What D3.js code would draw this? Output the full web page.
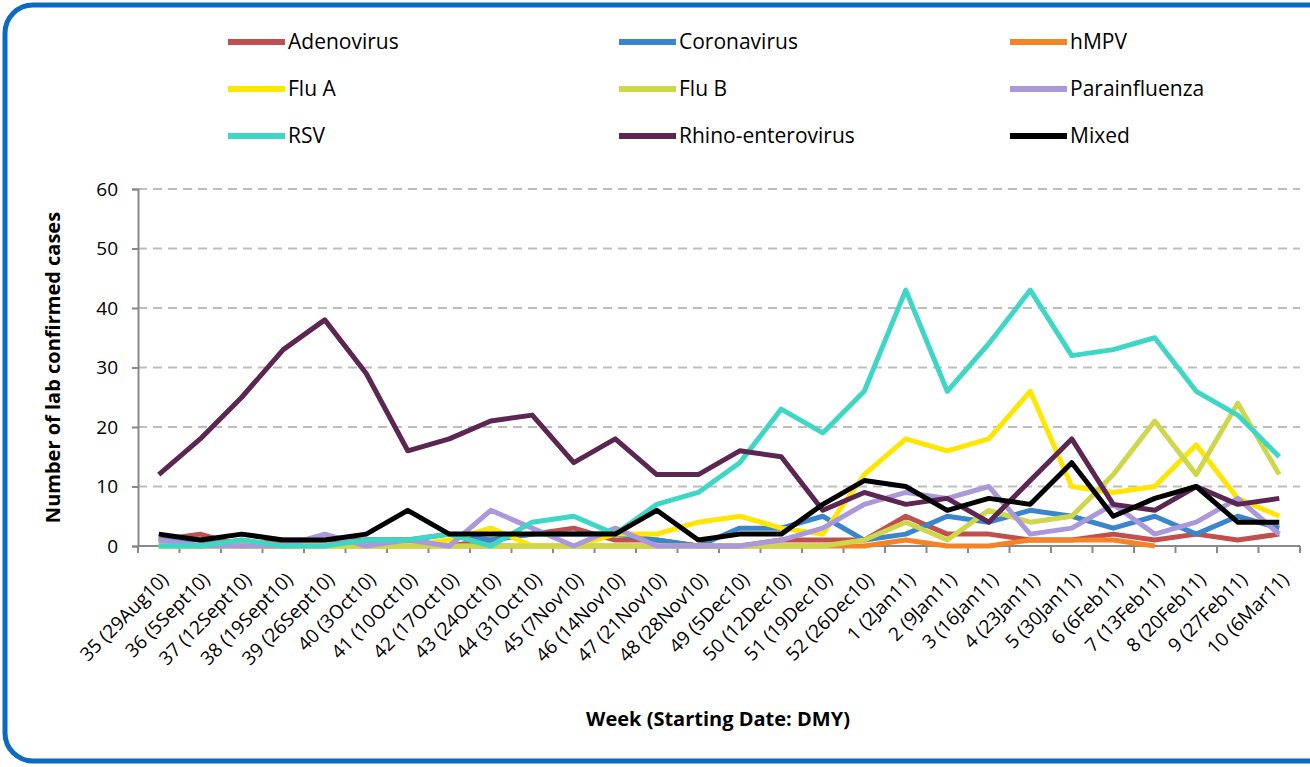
<!DOCTYPE html>
<html>
<head>
<meta charset="utf-8">
<script src="https://cdn.jsdelivr.net/npm/d3@7"></script>
<style>
  body { margin: 0; background: #fff; }
  svg { display: block; font-family: "Open Sans", sans-serif; }
</style>
</head>
<body>
<div id="chart"></div>
<script>
// week labels on the category axis
var weeks = ["35 (29Aug10)", "36 (5Sept10)", "37 (12Sept10)", "38 (19Sept10)", "39 (26Sept10)",
  "40 (3Oct10)", "41 (10Oct10)", "42 (17Oct10)", "43 (24Oct10)", "44 (31Oct10)", "45 (7Nov10)",
  "46 (14Nov10)", "47 (21Nov10)", "48 (28Nov10)", "49 (5Dec10)", "50 (12Dec10)", "51 (19Dec10)",
  "52 (26Dec10)", "1 (2Jan11)", "2 (9Jan11)", "3 (16Jan11)", "4 (23Jan11)", "5 (30Jan11)",
  "6 (6Feb11)", "7 (13Feb11)", "8 (20Feb11)", "9 (27Feb11)", "10 (6Mar11)"];

var yTicks = [0, 10, 20, 30, 40, 50, 60];

var adenovirus  = [1, 2, 0, 1, 1, 1, 1, 0, 1, 2, 3, 1, 1, 0, 0, 1, 1, 1, 5, 2, 2, 1, 1, 2, 1, 2, 1, 2];
var coronavirus = [1, 1, 0, 0, 0, 1, 1, 2, 1, 2, 2, 2, 1, 0, 3, 3, 5, 1, 2, 5, 4, 6, 5, 3, 5, 2, 5, 3];
var hmpv        = [0, 0, 1, 0, 0, 0, 0, 0, 0, 0, 0, 0, 0, 0, 0, 0, 0, 0, 1, 0, 0, 1, 1, 1, 0, null, null, null];
var fluA        = [0, 0, 0, 0, 0, 0, 0, 1, 3, 0, 0, 2, 2, 4, 5, 3, 2, 12, 18, 16, 18, 26, 10, 9, 10, 17, 8, 5];
var fluB        = [0, 0, 0, 0, 0, 0, 0, 0, 0, 0, 0, 0, 0, 0, 0, 0, 0, 1, 4, 1, 6, 4, 5, 12, 21, 12, 24, 12];
var parainfluenza = [1, 0, 0, 0, 2, 0, 1, 0, 6, 3, 0, 3, 0, 0, 0, 1, 3, 7, 9, 8, 10, 2, 3, 7, 2, 4, 8, 2];
var rsv         = [0, 0, 1, 0, 0, 1, 1, 2, 0, 4, 5, 2, 7, 9, 14, 23, 19, 26, 43, 26, 34, 43, 32, 33, 35, 26, 22, 15];
var rhino       = [12, 18, 25, 33, 38, 29, 16, 18, 21, 22, 14, 18, 12, 12, 16, 15, 6, 9, 7, 8, 4, 11, 18, 7, 6, 10, 7, 8];
var mixed       = [2, 1, 2, 1, 1, 2, 6, 2, 2, 2, 2, 2, 6, 1, 2, 2, 7, 11, 10, 6, 8, 7, 14, 5, 8, 10, 4, 4];

var seriesNames = ["Adenovirus", "Coronavirus", "hMPV", "Flu A", "Flu B", "Parainfluenza",
  "RSV", "Rhino-enterovirus", "Mixed"];
var seriesColors = ["#C0504D", "#3A86CC", "#F58426", "#FFE600", "#CED74A", "#AB98DA",
  "#3ED6C5", "#5B2651", "#000000"];
var seriesValues = [adenovirus, coronavirus, hmpv, fluA, fluB, parainfluenza, rsv, rhino, mixed];

var W = 1310, H = 767;
var plot = { left: 138, right: 1300, top: 189, bottom: 546 };

var svg = d3.select("#chart").append("svg")
  .attr("width", W)
  .attr("height", H);

// outer rounded frame
svg.append("rect")
  .attr("x", 5).attr("y", 5)
  .attr("width", 1340).attr("height", 756)
  .attr("rx", 28).attr("ry", 28)
  .attr("fill", "#fff")
  .attr("stroke", "#0B6BC2")
  .attr("stroke-width", 5);

var x = d3.scaleBand()
  .domain(weeks)
  .range([plot.left, plot.right]);

var y = d3.scaleLinear()
  .domain([0, 60])
  .range([plot.bottom, plot.top]);

function cx(d) { return x(d) + x.bandwidth() / 2; }

// gridlines
svg.append("g")
  .selectAll("line")
  .data(yTicks.filter(function (d) { return d > 0; }))
  .enter().append("line")
  .attr("x1", plot.left).attr("x2", plot.right)
  .attr("y1", function (d) { return y(d); })
  .attr("y2", function (d) { return y(d); })
  .attr("stroke", "#BDBDBD")
  .attr("stroke-width", 2)
  .attr("stroke-dasharray", "9,6");

// y axis
var yAxis = svg.append("g")
  .attr("transform", "translate(" + plot.left + ",0)")
  .call(d3.axisLeft(y).tickValues(yTicks).tickSize(6).tickPadding(14));
yAxis.select(".domain").attr("stroke", "#898989").attr("stroke-width", 2);
yAxis.selectAll(".tick line").attr("stroke", "#898989").attr("stroke-width", 2);
yAxis.selectAll(".tick text")
  .attr("font-size", 19)
  .attr("font-family", "Open Sans, sans-serif")
  .attr("fill", "#000");

// x axis: line + ticks at category boundaries
var xAxis = svg.append("g")
  .attr("transform", "translate(0," + plot.bottom + ")")
  .call(d3.axisBottom(x).tickSize(0).tickPadding(0));
xAxis.select(".domain").remove();
xAxis.append("line")
  .attr("x1", plot.left).attr("x2", plot.right)
  .attr("stroke", "#898989").attr("stroke-width", 2);
var edges = weeks.map(function (d) { return x(d); }).concat([plot.right]);
xAxis.selectAll(".edge")
  .data(edges)
  .enter().append("line")
  .attr("class", "edge")
  .attr("x1", function (d) { return d; })
  .attr("x2", function (d) { return d; })
  .attr("y1", 0).attr("y2", 7)
  .attr("stroke", "#898989").attr("stroke-width", 2);
xAxis.selectAll(".tick text")
  .attr("font-size", 19)
  .attr("font-family", "Open Sans, sans-serif")
  .attr("fill", "#000")
  .attr("text-anchor", "end")
  .attr("dy", "0.35em")
  .attr("transform", "translate(6,30) rotate(-45)");

// lines
var line = d3.line()
  .defined(function (d) { return d[1] != null; })
  .x(function (d) { return cx(d[0]); })
  .y(function (d) { return y(d[1]); });

seriesValues.forEach(function (vals, i) {
  var pts = weeks.map(function (w, j) { return [w, vals[j]]; });
  svg.append("path")
    .datum(pts)
    .attr("fill", "none")
    .attr("stroke", seriesColors[i])
    .attr("stroke-width", 5)
    .attr("stroke-linejoin", "round")
    .attr("d", line);
});

// legend, 3 columns x 3 rows
var legend = svg.append("g");
seriesNames.forEach(function (name, i) {
  var col = i % 3, row = Math.floor(i / 3);
  var lx = 228 + col * 391, ly = 42 + row * 47;
  legend.append("line")
    .attr("x1", lx).attr("x2", lx + 57)
    .attr("y1", ly).attr("y2", ly)
    .attr("stroke", seriesColors[i])
    .attr("stroke-width", 6);
  legend.append("text")
    .attr("x", lx + 60).attr("y", ly)
    .attr("dy", "0.35em")
    .attr("font-size", 21)
    .text(name);
});

// axis titles
svg.append("text")
  .attr("transform", "translate(60," + ((plot.top + plot.bottom) / 2) + ") rotate(-90)")
  .attr("text-anchor", "middle")
  .attr("font-size", 20)
  .attr("font-weight", "bold")
  .text("Number of lab confirmed cases");

svg.append("text")
  .attr("x", 718).attr("y", 726)
  .attr("text-anchor", "middle")
  .attr("font-size", 20)
  .attr("font-weight", "bold")
  .text("Week (Starting Date: DMY)");
</script>
</body>
</html>
